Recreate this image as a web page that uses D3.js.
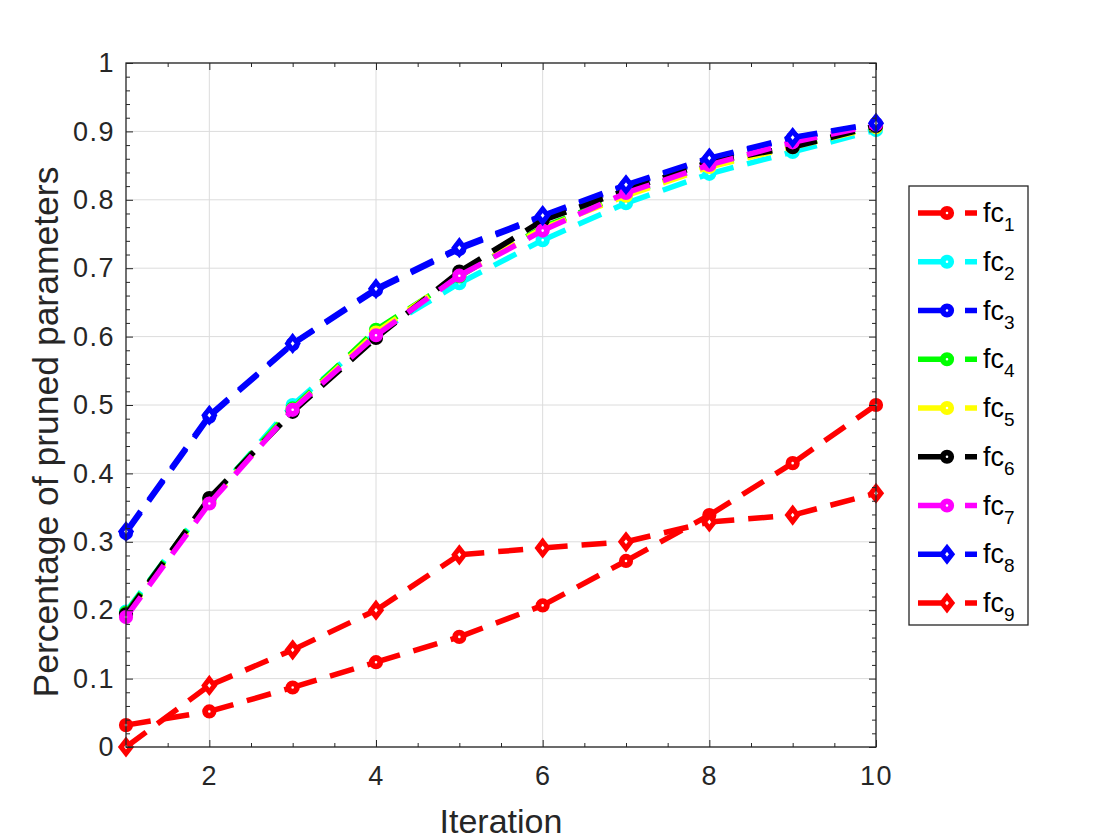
<!DOCTYPE html>
<html>
<head>
<meta charset="utf-8">
<script src="https://cdn.jsdelivr.net/npm/d3@7"></script>
<style>
	body { margin: 0; background: #fff; }
	svg { display: block; font-family: 'Liberation Sans', Arial, Helvetica, sans-serif; }
</style>
</head>
<body>
<div id="chart"></div>
<script>
// values
const iterations = [1, 2, 3, 4, 5, 6, 7, 8, 9, 10];
const fc1 = [0.032, 0.052, 0.087, 0.124, 0.161, 0.207, 0.272, 0.339, 0.415, 0.500];
const fc2 = [0.198, 0.360, 0.500, 0.605, 0.678, 0.741, 0.795, 0.838, 0.870, 0.902];
const fc3 = [0.313, 0.483, 0.589, 0.668, 0.728, 0.775, 0.820, 0.859, 0.890, 0.911];
const fc4 = [0.196, 0.362, 0.495, 0.610, 0.688, 0.760, 0.808, 0.850, 0.879, 0.907];
const fc5 = [0.193, 0.358, 0.493, 0.606, 0.690, 0.758, 0.806, 0.848, 0.877, 0.906];
const fc6 = [0.194, 0.364, 0.490, 0.598, 0.695, 0.770, 0.814, 0.855, 0.877, 0.908];
const fc7 = [0.190, 0.356, 0.493, 0.602, 0.689, 0.755, 0.810, 0.851, 0.884, 0.910];
const fc8 = [0.315, 0.485, 0.590, 0.670, 0.730, 0.777, 0.822, 0.861, 0.891, 0.912];
const fc9 = [0.000, 0.090, 0.142, 0.200, 0.281, 0.291, 0.300, 0.329, 0.339, 0.371];

const seriesNames = ['1', '2', '3', '4', '5', '6', '7', '8', '9'];
const seriesValues = [fc1, fc2, fc3, fc4, fc5, fc6, fc7, fc8, fc9];
const seriesColors = ['#ff0000', '#00ffff', '#0000ff', '#00ff00', '#ffff00', '#000000', '#ff00ff', '#0000ff', '#ff0000'];
const seriesMarkers = ['o', 'o', 'o', 'o', 'o', 'o', 'o', 'd', 'd'];

const xTicks = [2, 4, 6, 8, 10];
const yTicks = [0, 0.1, 0.2, 0.3, 0.4, 0.5, 0.6, 0.7, 0.8, 0.9, 1];

class LineChart {
	constructor(_config) {
		this.config = {
			parentElement: _config.parentElement,
			containerWidth: 1120,
			containerHeight: 840,
			margin: {top: 63, right: 244, bottom: 93, left: 126},
		};
		this.initVis();
	}

	initVis() {
		let vis = this;

		vis.width = vis.config.containerWidth - vis.config.margin.left - vis.config.margin.right;
		vis.height = vis.config.containerHeight - vis.config.margin.top - vis.config.margin.bottom;

		vis.svg = d3.select(vis.config.parentElement).append('svg')
			.attr('width', vis.config.containerWidth)
			.attr('height', vis.config.containerHeight);

		vis.chartArea = vis.svg.append('g')
			.attr('transform', `translate(${vis.config.margin.left},${vis.config.margin.top})`);

		vis.xScale = d3.scaleLinear().domain([1, 10]).range([0, vis.width]);
		vis.yScale = d3.scaleLinear().domain([0, 1]).range([vis.height, 0]);

		vis.data = seriesNames.map((name, i) => ({
			name: name,
			color: seriesColors[i],
			marker: seriesMarkers[i],
			points: iterations.map((it, j) => ({x: it, y: seriesValues[i][j]}))
		}));

		vis.renderGrid();
		vis.renderVis();
		vis.renderAxes();
		vis.renderLegend();
	}

	renderGrid() {
		let vis = this;
		const grid = vis.chartArea.append('g').attr('class', 'grid');

		grid.selectAll('.gx')
			.data(xTicks)
			.join('line')
			.attr('x1', d => vis.xScale(d)).attr('x2', d => vis.xScale(d))
			.attr('y1', 0).attr('y2', vis.height)
			.attr('stroke', '#dcdcdc').attr('stroke-width', 1);

		grid.selectAll('.gy')
			.data(yTicks)
			.join('line')
			.attr('y1', d => vis.yScale(d)).attr('y2', d => vis.yScale(d))
			.attr('x1', 0).attr('x2', vis.width)
			.attr('stroke', '#dcdcdc').attr('stroke-width', 1);
	}

	renderAxes() {
		let vis = this;
		const axisColor = '#262626';

		//Inward ticks on all four sides (box on)
		const xMinor = d3.range(1.5, 10, 0.5).filter(d => !xTicks.includes(d));
		const yMinor = d3.range(0.02, 1, 0.02).map(d => +d.toFixed(2)).filter(d => Math.round(d * 100) % 10 !== 0);

		vis.chartArea.append('g')
			.attr('class', 'x-axis')
			.attr('transform', `translate(0,${vis.height})`)
			.call(d3.axisBottom(vis.xScale).tickValues(xTicks).tickSize(-7).tickPadding(19).tickFormat(d3.format('d')))
			.call(g => g.select('.domain').remove());

		vis.chartArea.append('g')
			.attr('class', 'x-axis-top')
			.call(d3.axisTop(vis.xScale).tickValues(xTicks).tickSize(-7).tickFormat(''))
			.call(g => g.select('.domain').remove());

		vis.chartArea.append('g')
			.attr('transform', `translate(0,${vis.height})`)
			.call(d3.axisBottom(vis.xScale).tickValues(xMinor).tickSize(-4).tickFormat(''))
			.call(g => g.select('.domain').remove());

		vis.chartArea.append('g')
			.call(d3.axisTop(vis.xScale).tickValues(xMinor).tickSize(-4).tickFormat(''))
			.call(g => g.select('.domain').remove());

		vis.chartArea.append('g')
			.attr('class', 'y-axis')
			.call(d3.axisLeft(vis.yScale).tickValues(yTicks).tickSize(-7).tickPadding(11).tickFormat(d => d3.format('')(d)))
			.call(g => g.select('.domain').remove());

		vis.chartArea.append('g')
			.attr('transform', `translate(${vis.width},0)`)
			.call(d3.axisRight(vis.yScale).tickValues(yTicks).tickSize(-7).tickFormat(''))
			.call(g => g.select('.domain').remove());

		vis.chartArea.append('g')
			.call(d3.axisLeft(vis.yScale).tickValues(yMinor).tickSize(-4).tickFormat(''))
			.call(g => g.select('.domain').remove());

		vis.chartArea.append('g')
			.attr('transform', `translate(${vis.width},0)`)
			.call(d3.axisRight(vis.yScale).tickValues(yMinor).tickSize(-4).tickFormat(''))
			.call(g => g.select('.domain').remove());

		vis.chartArea.selectAll('.tick line').attr('stroke', axisColor);
		vis.chartArea.selectAll('.tick text')
			.attr('fill', axisColor)
			.style('font-size', '27px')
			.style('letter-spacing', '1.5px');

		//Box around the plot area
		vis.chartArea.append('rect')
			.attr('x', 0).attr('y', 0)
			.attr('width', vis.width).attr('height', vis.height)
			.attr('fill', 'none')
			.attr('stroke', axisColor)
			.attr('stroke-width', 1.3);

		//Axis labels
		vis.chartArea.append('text')
			.attr('id', 'x-label')
			.attr('text-anchor', 'middle')
			.attr('x', vis.width / 2)
			.attr('y', 833 - vis.config.margin.top)
			.attr('fill', axisColor)
			.style('font-size', '34px')
			.text('Iteration');

		vis.chartArea.append('text')
			.attr('id', 'y-label')
			.attr('text-anchor', 'middle')
			.attr('transform', `translate(${58 - vis.config.margin.left},${432 - vis.config.margin.top}) rotate(-90)`)
			.attr('fill', axisColor)
			.style('font-size', '35.5px')
			.text('Percentage of pruned parameters');
	}

	drawMarker(sel, marker, color) {
		if (marker === 'd') {
			sel.append('path')
				.attr('d', 'M0,-6.5L5,0L0,6.5L-5,0Z')
				.attr('fill', '#fff')
				.attr('stroke', color)
				.attr('stroke-width', 5);
		} else {
			sel.append('circle')
				.attr('r', 4.2)
				.attr('fill', '#fff')
				.attr('stroke', color)
				.attr('stroke-width', 5.8);
		}
	}

	renderVis() {
		let vis = this;

		const series = vis.chartArea.selectAll('.series')
			.data(vis.data)
			.join('g')
			.attr('class', 'series');

		//Each segment dashed on its own so the pattern restarts at every point
		series.selectAll('.seg')
			.data(d => d3.pairs(d.points).map(p => ({a: p[0], b: p[1], color: d.color})))
			.join('line')
			.attr('class', 'seg')
			.attr('x1', d => vis.xScale(d.a.x)).attr('y1', d => vis.yScale(d.a.y))
			.attr('x2', d => vis.xScale(d.b.x)).attr('y2', d => vis.yScale(d.b.y))
			.attr('stroke', d => d.color)
			.attr('stroke-width', 5.5)
			.attr('stroke-dasharray', '25 14');

		series.each(function(d) {
			d3.select(this).selectAll('.pt')
				.data(d.points)
				.join('g')
				.attr('class', 'pt')
				.attr('transform', p => `translate(${vis.xScale(p.x)},${vis.yScale(p.y)})`)
				.each(function() { vis.drawMarker(d3.select(this), d.marker, d.color); });
		});
	}

	renderLegend() {
		let vis = this;
		const lx = 909, ly = 186, lw = 119, lh = 439, step = 48.75;

		const legend = vis.svg.append('g').attr('class', 'legend');
		legend.append('rect')
			.attr('x', lx).attr('y', ly)
			.attr('width', lw).attr('height', lh)
			.attr('fill', '#fff')
			.attr('stroke', '#262626')
			.attr('stroke-width', 1.3);

		const items = legend.selectAll('.item')
			.data(vis.data)
			.join('g')
			.attr('class', 'item')
			.attr('transform', (d, i) => `translate(0,${213 + i * step})`);

		items.append('line')
			.attr('x1', 918).attr('x2', 977)
			.attr('y1', 0).attr('y2', 0)
			.attr('stroke', d => d.color)
			.attr('stroke-width', 5.5)
			.attr('stroke-dasharray', '30 17 12');

		items.each(function(d) {
			const m = d3.select(this).append('g').attr('transform', 'translate(947,0)');
			vis.drawMarker(m, d.marker, d.color);
		});

		const label = items.append('text')
			.attr('x', 983)
			.attr('y', 9)
			.attr('fill', '#000')
			.style('font-size', '27px');
		label.append('tspan').text('fc');
		label.append('tspan')
			.attr('dy', 9)
			.style('font-size', '19px')
			.text(d => d.name);
	}
}

new LineChart({parentElement: '#chart'});
</script>
</body>
</html>
